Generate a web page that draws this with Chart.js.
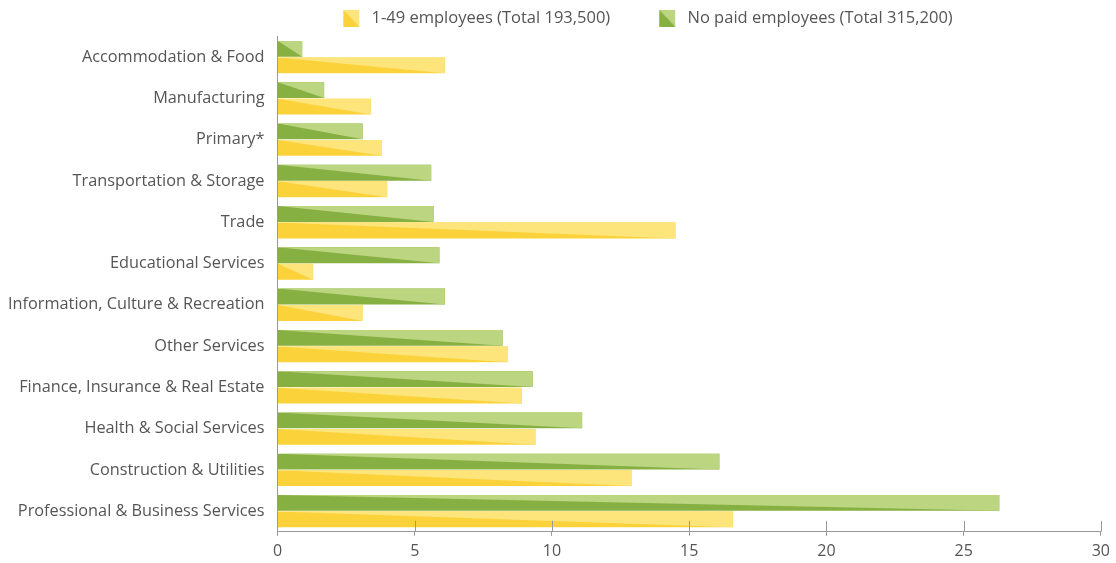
<!DOCTYPE html>
<html>
<head>
<meta charset="utf-8">
<script src="https://cdn.jsdelivr.net/npm/chart.js@4/dist/chart.umd.min.js"></script>
<style>
  html, body { margin: 0; padding: 0; background: #fff; }
  #wrap { width: 1116px; height: 563px; }
</style>
</head>
<body>
<div id="wrap"><canvas id="stage"></canvas></div>
<script>
// categories and values (percent of businesses)
var categories = [
   "Accommodation & Food", "Manufacturing", "Primary*", "Transportation & Storage",
   "Trade", "Educational Services", "Information, Culture & Recreation", "Other Services",
   "Finance, Insurance & Real Estate", "Health & Social Services", "Construction & Utilities",
   "Professional & Business Services"
];
var noPaid = [0.9, 1.7, 3.1, 5.6, 5.7, 5.9, 6.1, 8.2, 9.3, 11.1, 16.1, 26.3];
var smallEmp = [6.1, 3.4, 3.8, 4.0, 14.5, 1.3, 3.1, 8.4, 8.9, 9.4, 12.9, 16.6];
var xTicks = [0, 5, 10, 15, 20, 25, 30];

var darkGreen = "#87b043";
var lightGreen = "#bcd580";
var darkYellow = "#fcd23b";
var lightYellow = "#fde57b";

// light triangle over each bar (upper right half)
var diagPlugin = {
   id: "diag",
   afterLayout: function(chart){
      // legend sits right of centre in the original
      chart.legend.left += 79;
      chart.legend.right += 79;
   },
   afterDatasetsDraw: function(chart){
      var ctx = chart.ctx;
      chart.data.datasets.forEach(function(ds, i){
         var meta = chart.getDatasetMeta(i);
         meta.data.forEach(function(bar){
            var p = bar.getProps(["x","y","base","height"], true);
            var top = p.y - p.height/2;
            var bot = p.y + p.height/2;
            ctx.save();
            ctx.fillStyle = ds.lightColor;
            ctx.beginPath();
            ctx.moveTo(p.base, top);
            ctx.lineTo(p.x, top);
            ctx.lineTo(p.x, bot);
            ctx.closePath();
            ctx.fill();
            ctx.restore();
         });
      });
   },
   afterDraw: function(chart){
      // small inner ticks on the x axis
      var ctx = chart.ctx;
      var xs = chart.scales.x;
      var yb = chart.chartArea.bottom;
      ctx.save();
      ctx.strokeStyle = "#999";
      ctx.lineWidth = 1;
      xTicks.forEach(function(v){
         var px = Math.round(xs.getPixelForValue(v)) + 0.5;
         ctx.beginPath();
         ctx.moveTo(px, yb - 11);
         ctx.lineTo(px, yb);
         ctx.stroke();
      });
      ctx.restore();
   }
};

var mydata = {
   labels: categories,
   datasets: [
      {
         label: "No paid employees (Total 315,200)",
         data: noPaid,
         backgroundColor: darkGreen,
         lightColor: lightGreen,
         categoryPercentage: 0.8,
         barPercentage: 0.96
      },
      {
         label: "1-49 employees (Total 193,500)",
         data: smallEmp,
         backgroundColor: darkYellow,
         lightColor: lightYellow,
         categoryPercentage: 0.8,
         barPercentage: 0.96
      }
   ]
};

// legend swatch with diagonal split, blank space left of it for item spacing
var swLeft = 39;
function swatch(dark, light){
   var c = document.createElement("canvas");
   c.width = swLeft + 20; c.height = 17;
   var g = c.getContext("2d");
   g.fillStyle = dark;
   g.fillRect(swLeft, 0, 16, 17);
   g.fillStyle = light;
   g.beginPath();
   g.moveTo(swLeft, 0); g.lineTo(swLeft + 16, 0); g.lineTo(swLeft + 16, 17); g.closePath();
   g.fill();
   return c;
}
var swatches = [swatch(darkGreen, lightGreen), swatch(darkYellow, lightYellow)];

var options = {
   indexAxis: "y",
   responsive: true,
   maintainAspectRatio: false,
   animation: false,
   layout: { padding: { left: -5, right: 12, top: 0, bottom: -4 } },
   plugins: {
      tooltip: { enabled: false },
      legend: {
         position: "top",
         reverse: true,
         labels: {
            font: { family: "Open Sans", size: 16.5 },
            color: "#555",
            usePointStyle: true,
            pointStyleWidth: swLeft + 20,
            padding: 10,
            generateLabels: function(chart){
               return chart.data.datasets.map(function(ds, i){
                  return { text: ds.label, pointStyle: swatches[i], datasetIndex: i,
                           fillStyle: ds.backgroundColor, strokeStyle: "transparent", lineWidth: 0, fontColor: "#555" };
               });
            }
         }
      }
   },
   scales: {
      x: {
         min: 0,
         max: 30,
         ticks: { stepSize: 5, font: { family: "Open Sans", size: 16 }, color: "#555", padding: 6 },
         grid: { drawOnChartArea: false, tickLength: 4, color: "#999" },
         border: { color: "#999" }
      },
      y: {
         ticks: { font: { family: "Open Sans", size: 16.3 }, color: "#555", padding: 13 },
         grid: { display: false, drawTicks: false },
         border: { color: "#999" }
      }
   }
};

var canvas = document.getElementById("stage");
var chart = new Chart(canvas, {
   type: "bar",
   data: mydata,
   options: options,
   plugins: [diagPlugin]
});
</script>
</body>
</html>
